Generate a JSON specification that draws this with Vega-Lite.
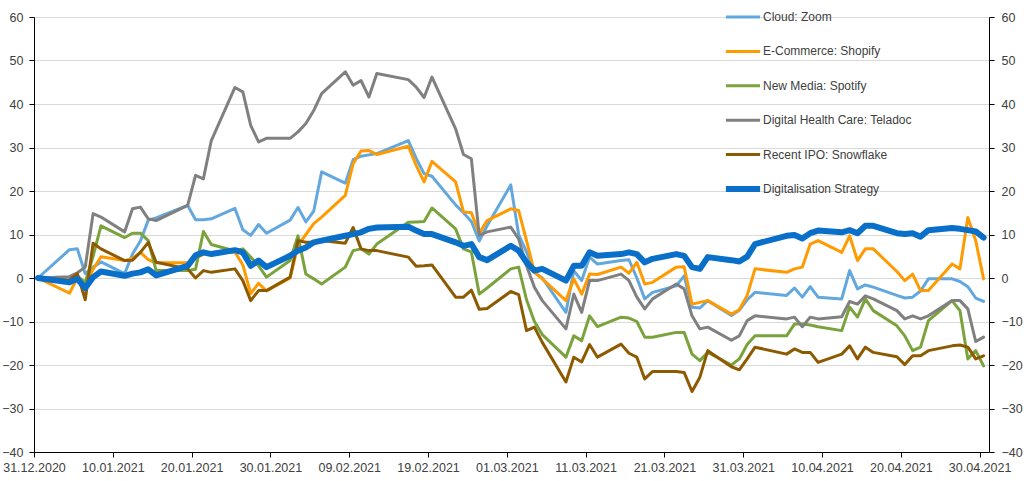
{
"$schema": "https://vega.github.io/schema/vega-lite/v6.json",
"width": 955, "height": 435,
"autosize": {"type": "none"},
"padding": {"left": 34, "top": 17, "right": 35, "bottom": 29},
"background": "white",
"config": {"view": {"stroke": null}, "font": "Liberation Sans"},
"data": {"values": [
{"d":"2020-12-31","z":0,"s":0,"p":0,"t":0,"f":0,"g":0},
{"d":"2021-01-04","z":6.5,"s":-3.5,"p":-0.5,"t":0.3,"f":-0.5,"g":-1},
{"d":"2021-01-05","z":6.7,"s":0,"p":0.5,"t":1.2,"f":1,"g":-0.2},
{"d":"2021-01-06","z":1,"s":-1.5,"p":-1,"t":2.5,"f":-5,"g":-2.3},
{"d":"2021-01-07","z":2.5,"s":2,"p":5,"t":14.8,"f":8,"g":0.2},
{"d":"2021-01-08","z":3.7,"s":4.9,"p":12,"t":14,"f":6.7,"g":1.5},
{"d":"2021-01-11","z":1,"s":4,"p":9.3,"t":10.6,"f":4,"g":0.5},
{"d":"2021-01-12","z":5.5,"s":4.5,"p":10.3,"t":15.9,"f":4.1,"g":1},
{"d":"2021-01-13","z":8.5,"s":5.9,"p":10.3,"t":16.3,"f":5.9,"g":1.3},
{"d":"2021-01-14","z":13.3,"s":4.2,"p":8.6,"t":13.6,"f":8.2,"g":2},
{"d":"2021-01-15","z":13.8,"s":3.5,"p":1.7,"t":13.2,"f":3.6,"g":0.6},
{"d":"2021-01-19","z":16.7,"s":3.5,"p":1.7,"t":16.7,"f":2.1,"g":2.8},
{"d":"2021-01-20","z":13.4,"s":4.5,"p":2,"t":23.6,"f":0,"g":5.2},
{"d":"2021-01-21","z":13.4,"s":5.5,"p":10.7,"t":22.8,"f":1.7,"g":5.9},
{"d":"2021-01-22","z":13.6,"s":5.8,"p":7.7,"t":31.6,"f":1.3,"g":5.5},
{"d":"2021-01-25","z":16,"s":6,"p":6.2,"t":43.8,"f":2.1,"g":6.4},
{"d":"2021-01-26","z":11.1,"s":3,"p":6.7,"t":42.8,"f":-0.6,"g":5.9},
{"d":"2021-01-27","z":9.8,"s":-3.6,"p":4.8,"t":35.1,"f":-5.2,"g":2.8},
{"d":"2021-01-28","z":12.3,"s":-1.2,"p":2.8,"t":31.3,"f":-2.9,"g":4},
{"d":"2021-01-29","z":10.3,"s":-3,"p":0.2,"t":32.1,"f":-2.9,"g":2.5},
{"d":"2021-02-01","z":13.3,"s":0,"p":4,"t":32.1,"f":0.2,"g":5.1},
{"d":"2021-02-02","z":16.2,"s":7.5,"p":9.7,"t":33.6,"f":8.6,"g":6.3},
{"d":"2021-02-03","z":12.9,"s":10,"p":0.9,"t":35.5,"f":8.2,"g":7},
{"d":"2021-02-04","z":15.4,"s":12.5,"p":-0.2,"t":38.5,"f":8.2,"g":8.2},
{"d":"2021-02-05","z":24.4,"s":14,"p":-1.4,"t":42.4,"f":8.6,"g":8.6},
{"d":"2021-02-08","z":21.8,"s":19,"p":2.5,"t":47.4,"f":8,"g":9.7},
{"d":"2021-02-09","z":27.2,"s":26.3,"p":6.3,"t":44.3,"f":11.6,"g":10.1},
{"d":"2021-02-10","z":28,"s":29.2,"p":6.7,"t":45.4,"f":6.7,"g":10.5},
{"d":"2021-02-11","z":28.3,"s":29.3,"p":5.5,"t":41.6,"f":6.3,"g":11.3},
{"d":"2021-02-12","z":28.6,"s":28.4,"p":7.8,"t":47,"f":6.3,"g":11.6},
{"d":"2021-02-16","z":31.6,"s":30.3,"p":12.8,"t":45.6,"f":4.8,"g":11.8},
{"d":"2021-02-17","z":27.5,"s":25.9,"p":12.9,"t":43.9,"f":2.7,"g":10.9},
{"d":"2021-02-18","z":24,"s":22.1,"p":13,"t":41.5,"f":2.8,"g":10.1},
{"d":"2021-02-19","z":23.4,"s":26.8,"p":16.1,"t":46.2,"f":3,"g":10.1},
{"d":"2021-02-22","z":16.8,"s":22.1,"p":11.3,"t":34.3,"f":-4.4,"g":8.2},
{"d":"2021-02-23","z":15,"s":15.2,"p":6.7,"t":28.4,"f":-4.4,"g":7.4},
{"d":"2021-02-24","z":13,"s":15,"p":6,"t":27.4,"f":-2.8,"g":7.8},
{"d":"2021-02-25","z":8.5,"s":10.2,"p":-3.7,"t":9.8,"f":-7.2,"g":4.8},
{"d":"2021-02-26","z":12,"s":13.2,"p":-2.3,"t":10.6,"f":-7,"g":4.1},
{"d":"2021-03-01","z":21.4,"s":15.9,"p":2.1,"t":11.7,"f":-3.1,"g":7.4},
{"d":"2021-03-02","z":10,"s":15.5,"p":2.5,"t":9,"f":-3.8,"g":6.3},
{"d":"2021-03-03","z":6,"s":8.6,"p":-5,"t":2.8,"f":-12.1,"g":3.6},
{"d":"2021-03-04","z":1.3,"s":1.3,"p":-10,"t":-2.1,"f":-11.3,"g":1.7},
{"d":"2021-03-05","z":0,"s":-0.2,"p":-13,"t":-5.2,"f":-14.8,"g":2.1},
{"d":"2021-03-08","z":-7.9,"s":-5.2,"p":-18.2,"t":-11.7,"f":-23.9,"g":-0.6},
{"d":"2021-03-09","z":1.7,"s":-0.2,"p":-13.3,"t":-3.7,"f":-18.2,"g":2.8},
{"d":"2021-03-10","z":-0.6,"s":-3.7,"p":-14.4,"t":-7.9,"f":-19.3,"g":2.8},
{"d":"2021-03-11","z":4.8,"s":0.9,"p":-8.7,"t":-0.6,"f":-15.3,"g":5.9},
{"d":"2021-03-12","z":3.2,"s":0.8,"p":-11.2,"t":-0.6,"f":-18.2,"g":5.1},
{"d":"2021-03-15","z":4,"s":2.5,"p":-9,"t":0.9,"f":-15.2,"g":5.5},
{"d":"2021-03-16","z":4.2,"s":1.1,"p":-9.2,"t":-0.6,"f":-17.3,"g":5.9},
{"d":"2021-03-17","z":0,"s":3.6,"p":-10,"t":-4.4,"f":-18.2,"g":5.5},
{"d":"2021-03-18","z":-4.8,"s":-1.4,"p":-13.6,"t":-7.1,"f":-23.2,"g":3.6},
{"d":"2021-03-19","z":-3.3,"s":-1,"p":-13.6,"t":-4.8,"f":-21.5,"g":4.4},
{"d":"2021-03-22","z":-1.8,"s":2.5,"p":-12.5,"t":-1.4,"f":-21.5,"g":5.5},
{"d":"2021-03-23","z":0.5,"s":2.6,"p":-12.5,"t":-2.5,"f":-21.7,"g":5.1},
{"d":"2021-03-24","z":-6.7,"s":-6,"p":-17.5,"t":-8.7,"f":-26.1,"g":2.5},
{"d":"2021-03-25","z":-6.9,"s":-5.6,"p":-19,"t":-11.7,"f":-22.8,"g":2.1},
{"d":"2021-03-26","z":-5.2,"s":-5.2,"p":-17.1,"t":-11.3,"f":-16.7,"g":4.8},
{"d":"2021-03-29","z":-8.6,"s":-8.3,"p":-20,"t":-14.3,"f":-20.4,"g":4.1},
{"d":"2021-03-30","z":-7.4,"s":-7.3,"p":-18.6,"t":-13.3,"f":-21.1,"g":3.8},
{"d":"2021-03-31","z":-5,"s":-4,"p":-15.3,"t":-9.8,"f":-18.6,"g":4.9},
{"d":"2021-04-01","z":-3.3,"s":2.1,"p":-13.3,"t":-8.7,"f":-15.9,"g":7.8},
{"d":"2021-04-05","z":-4,"s":1.3,"p":-13.3,"t":-9.4,"f":-17.5,"g":9.7},
{"d":"2021-04-06","z":-2.3,"s":2.1,"p":-10.6,"t":-9,"f":-16.3,"g":9.9},
{"d":"2021-04-07","z":-4.4,"s":2.5,"p":-10.6,"t":-11.2,"f":-17.1,"g":9.1},
{"d":"2021-04-08","z":-2,"s":7.8,"p":-10.8,"t":-9,"f":-17.1,"g":10.3},
{"d":"2021-04-09","z":-4.4,"s":8.6,"p":-11.2,"t":-9.4,"f":-19.4,"g":10.9},
{"d":"2021-04-12","z":-4.8,"s":5.9,"p":-12.1,"t":-8.9,"f":-17.5,"g":10.5},
{"d":"2021-04-13","z":1.7,"s":9.7,"p":-6.7,"t":-5.4,"f":-15.6,"g":11},
{"d":"2021-04-14","z":-2.5,"s":4,"p":-9,"t":-6,"f":-18.6,"g":10.3},
{"d":"2021-04-15","z":-1.6,"s":6.7,"p":-4.8,"t":-4.1,"f":-15.9,"g":12},
{"d":"2021-04-16","z":-2.1,"s":6.7,"p":-7.5,"t":-4.8,"f":-17.1,"g":12},
{"d":"2021-04-19","z":-4,"s":1.5,"p":-11,"t":-7.5,"f":-18.1,"g":10.3},
{"d":"2021-04-20","z":-4.6,"s":-0.6,"p":-13.3,"t":-9.4,"f":-19.9,"g":10.1},
{"d":"2021-04-21","z":-4.4,"s":0.9,"p":-16.7,"t":-8.7,"f":-17.9,"g":10.3},
{"d":"2021-04-22","z":-3,"s":-2.9,"p":-15.9,"t":-9.4,"f":-17.9,"g":9.5},
{"d":"2021-04-23","z":-0.2,"s":-2.9,"p":-9.8,"t":-8.7,"f":-16.7,"g":11},
{"d":"2021-04-26","z":-0.2,"s":3.2,"p":-5.2,"t":-5.2,"f":-15.6,"g":11.5},
{"d":"2021-04-27","z":-0.8,"s":2.1,"p":-7.5,"t":-5.2,"f":-15.4,"g":11.3},
{"d":"2021-04-28","z":-2,"s":13.9,"p":-18.6,"t":-7.1,"f":-15.9,"g":11},
{"d":"2021-04-29","z":-4.6,"s":8.6,"p":-16.7,"t":-14.6,"f":-18.6,"g":10.7},
{"d":"2021-04-30","z":-5.4,"s":-0.2,"p":-20.2,"t":-13.6,"f":-17.9,"g":9.3}
]},
"encoding": {
  "x": {"field": "d", "type": "temporal",
    "scale": {"type": "utc", "domain": [{"year":2020,"month":12,"date":30,"hours":12,"utc":true},{"year":2021,"month":4,"date":30,"hours":16,"minutes":30,"utc":true}]},
    "axis": {"title": null, "grid": false, "domainColor": "#000000", "tickColor": "#000000", "tickSize": 5, "labelPadding": 4,
      "labelFontSize": 12.5, "labelColor": "#404040", "labelFlush": false, "labelOverlap": false, "labelBound": false,
      "values": [
        {"year":2020,"month":12,"date":30,"hours":12,"utc":true},
        {"year":2021,"month":1,"date":9,"hours":12,"utc":true},
        {"year":2021,"month":1,"date":19,"hours":12,"utc":true},
        {"year":2021,"month":1,"date":29,"hours":12,"utc":true},
        {"year":2021,"month":2,"date":8,"hours":12,"utc":true},
        {"year":2021,"month":2,"date":18,"hours":12,"utc":true},
        {"year":2021,"month":2,"date":28,"hours":12,"utc":true},
        {"year":2021,"month":3,"date":10,"hours":12,"utc":true},
        {"year":2021,"month":3,"date":20,"hours":12,"utc":true},
        {"year":2021,"month":3,"date":30,"hours":12,"utc":true},
        {"year":2021,"month":4,"date":9,"hours":12,"utc":true},
        {"year":2021,"month":4,"date":19,"hours":12,"utc":true},
        {"year":2021,"month":4,"date":29,"hours":12,"utc":true}],
      "labelExpr": "utcFormat(time(datum.value) + 43200000, '%d.%m.%Y')"}},
  "color": {"field": "k", "type": "nominal",
    "scale": {"domain": ["z","s","p","t","f","g"], "range": ["#62A8DF","#FF9A00","#7AA33C","#808080","#8E5A00","#0A6FC8"]},
    "legend": {"orient": "none", "legendX": 703, "legendY": -6, "title": null, "symbolType": "stroke", "symbolSize": 1170, "symbolStrokeWidth": 3,
      "labelFontSize": 12, "labelColor": "#404040", "labelOffset": 14, "rowPadding": 22.4, "padding": 0,
      "labelExpr": "datum.value == 'z' ? 'Cloud: Zoom' : datum.value == 's' ? 'E-Commerce: Shopify' : datum.value == 'p' ? 'New Media: Spotify' : datum.value == 't' ? 'Digital Health Care: Teladoc' : datum.value == 'f' ? 'Recent IPO: Snowflake' : 'Digitalisation Strategy'",
      "encode": {"symbols": {"update": {
        "shape": {"signal": "datum.value == 'g' ? 'M-1,-0.175H1V0.175H-1Z' : 'stroke'"},
        "fill": {"signal": "datum.value == 'g' ? '#0A6FC8' : 'transparent'"},
        "strokeWidth": {"signal": "datum.value == 'g' ? 0 : 3"}}}}}}
},
"layer": [
  {"transform": [{"fold": ["z","s","p","t","f"], "as": ["k","v"]}],
   "mark": {"type": "line", "strokeWidth": 3, "strokeJoin": "round", "strokeCap": "round"},
   "encoding": {"y": {"field": "v", "type": "quantitative", "scale": {"domain": [-40, 60], "nice": false},
     "axis": {"title": null, "values": [-40,-30,-20,-10,0,10,20,30,40,50,60], "domainColor": "#000000", "tickColor": "#000000", "tickSize": 5, "labelPadding": 6,
       "labelFontSize": 12.5, "labelColor": "#404040", "gridColor": "#D9D9D9", "labelFlush": false}}}},
  {"transform": [{"fold": ["g"], "as": ["k","v"]}],
   "mark": {"type": "line", "strokeWidth": 6, "strokeJoin": "round", "strokeCap": "round"},
   "encoding": {"y": {"field": "v", "type": "quantitative", "scale": {"domain": [-40, 60], "nice": false},
     "axis": {"orient": "right", "title": null, "grid": false, "values": [-40,-30,-20,-10,0,10,20,30,40,50,60], "domainColor": "#000000", "tickColor": "#000000", "tickSize": 5, "labelPadding": 7,
       "labelFontSize": 12.5, "labelColor": "#404040", "labelFlush": false}}}}
],
"resolve": {"scale": {"y": "independent"}}
}
